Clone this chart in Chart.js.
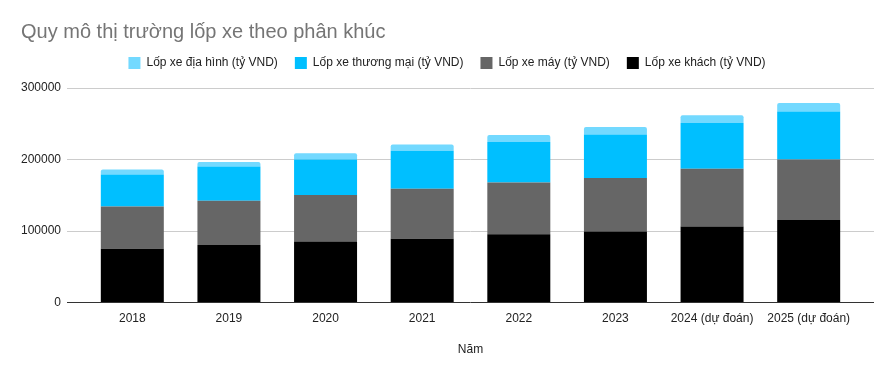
<!DOCTYPE html>
<html>
<head>
<meta charset="utf-8">
<script src="https://cdn.jsdelivr.net/npm/chart.js@4/dist/chart.umd.min.js"></script>
<style>
html,body{margin:0;padding:0;background:#fff;}
#wrap{width:892px;height:375px;}
</style>
</head>
<body>
<div id="wrap"><canvas id="c" width="892" height="375"></canvas></div>
<script>
const categories = ["2018","2019","2020","2021","2022","2023","2024 (dự đoán)","2025 (dự đoán)"];
const khach = [75000, 80000, 85000, 89000, 95000, 99000, 106000, 115000];
const xeMay = [59000, 62000, 65000, 70000, 72500, 75000, 81000, 85000];
const thuongMai = [45000, 48000, 50000, 53000, 57000, 61000, 64000, 67000];
const diaHinh = [7000, 6500, 8500, 9000, 9500, 10500, 11000, 12000];
const yTicks = [0, 100000, 200000, 300000];

const font = "'Liberation Sans', Arial, sans-serif";
const GRID_EXTEND = 17;

const gridPlugin = {
  id: 'extGrid',
  beforeInit(chart) {
    const lg = chart.legend;
    if (lg) {
      const fit = lg.fit;
      lg.fit = function () { fit.call(this); this.height += 9; };
      const draw = lg.draw;
      lg.draw = function () {
        const c = this.ctx; c.save(); c.translate(8, 0); draw.call(this); c.restore();
      };
    }
  },
  beforeDatasetsDraw(chart) {
    const {ctx, chartArea, scales: {y}} = chart;
    ctx.save();
    ctx.lineWidth = 1;
    ctx.strokeStyle = '#cccccc';
    y.ticks.forEach(t => {
      if (t.value === 0) return;
      const py = Math.round(y.getPixelForValue(t.value)) + 0.5;
      ctx.beginPath();
      ctx.moveTo(chartArea.left - GRID_EXTEND, py);
      ctx.lineTo(chartArea.right + GRID_EXTEND, py);
      ctx.stroke();
    });
    ctx.restore();
  },
  afterDatasetsDraw(chart) {
    const {ctx, chartArea, scales: {y}} = chart;
    ctx.save();
    ctx.lineWidth = 1;
    ctx.strokeStyle = '#333333';
    const py = Math.round(y.getPixelForValue(0)) + 0.5;
    ctx.beginPath();
    ctx.moveTo(chartArea.left - GRID_EXTEND, py);
    ctx.lineTo(chartArea.right + GRID_EXTEND, py);
    ctx.stroke();
    ctx.restore();
  }
};

new Chart(document.getElementById('c'), {
  type: 'bar',
  data: {
    labels: categories,
    datasets: [
      {label: 'Lốp xe khách (tỷ VND)', data: khach, backgroundColor: '#000000'},
      {label: 'Lốp xe máy (tỷ VND)', data: xeMay, backgroundColor: '#666666'},
      {label: 'Lốp xe thương mại (tỷ VND)', data: thuongMai, backgroundColor: '#00bfff'},
      {label: 'Lốp xe địa hình (tỷ VND)', data: diaHinh, backgroundColor: '#73d9ff',
       borderRadius: {topLeft: 2, topRight: 2, bottomLeft: 0, bottomRight: 0}, borderSkipped: 'bottom'}
    ]
  },
  plugins: [gridPlugin],
  options: {
    responsive: false,
    animation: false,
    layout: {padding: {left: 21, right: 35, top: 0, bottom: 14}},
    datasets: {bar: {categoryPercentage: 0.652, barPercentage: 1}},
    plugins: {
      title: {
        display: true,
        text: 'Quy mô thị trường lốp xe theo phân khúc',
        align: 'start',
        color: '#757575',
        font: {family: font, size: 20, weight: 'normal', lineHeight: 0.8},
        padding: {top: 24, bottom: 0}
      },
      legend: {
        reverse: true,
        labels: {
          color: '#222',
          font: {family: font, size: 12},
          boxWidth: 12, boxHeight: 12,
          padding: 17
        }
      },
      tooltip: {enabled: false}
    },
    scales: {
      x: {
        stacked: true,
        grid: {display: false, drawTicks: false},
        border: {display: false},
        ticks: {color: '#222', font: {family: font, size: 12}, padding: 9, maxRotation: 0},
        title: {display: true, text: 'Năm', color: '#222', font: {family: font, size: 12}, padding: {top: 8}}
      },
      y: {
        stacked: true,
        min: 0, max: 300000,
        afterBuildTicks: (axis) => { axis.ticks = yTicks.map(v => ({value: v})); },
        afterFit: (axis) => { axis.width = 63; },
        grid: {display: false, drawTicks: false},
        border: {display: false},
        ticks: {color: '#222', font: {family: font, size: 12}, padding: 23, callback: v => String(v)}
      }
    }
  }
});
</script>
</body>
</html>
